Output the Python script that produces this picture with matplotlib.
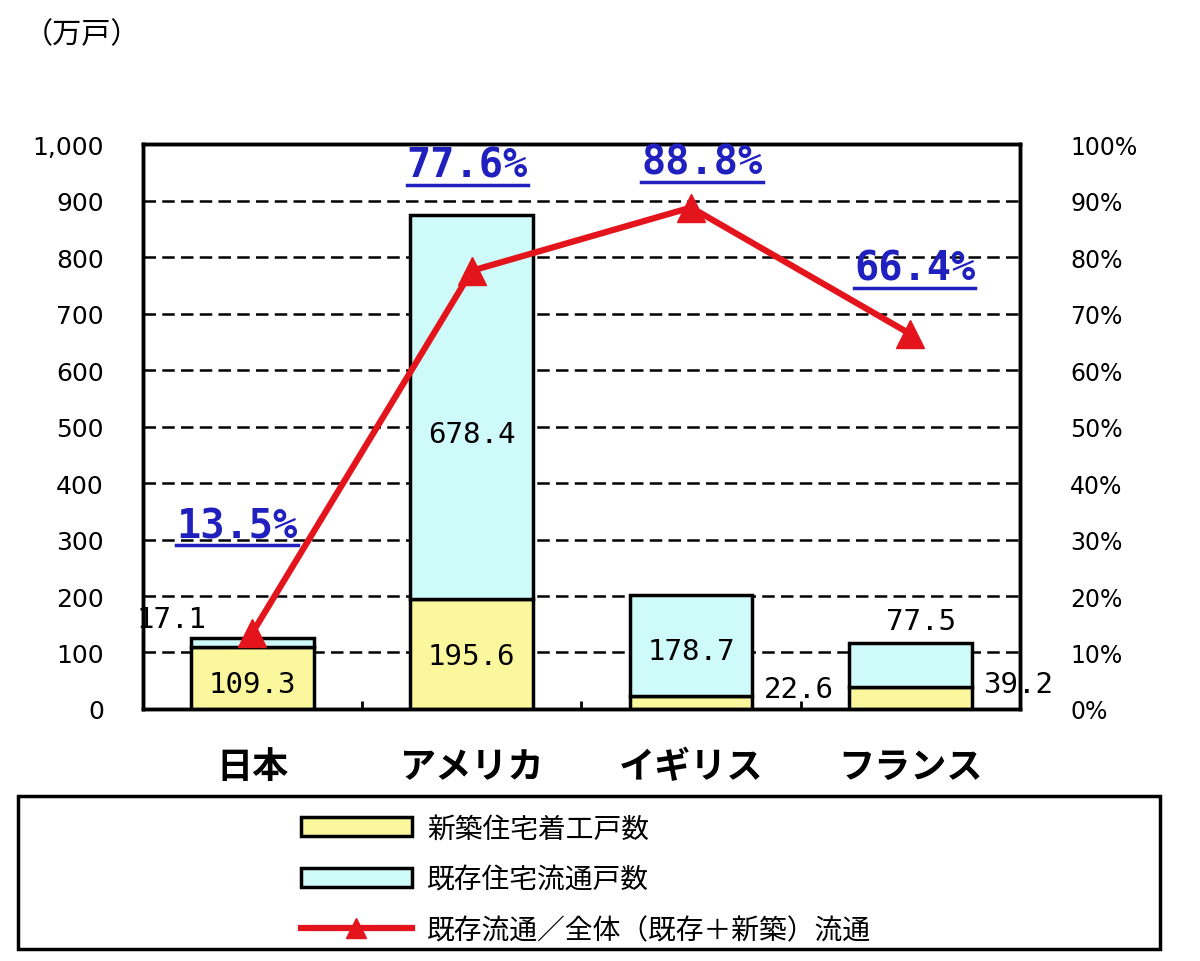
import numpy as np
import matplotlib
matplotlib.use("Agg")
import matplotlib.pyplot as plt
from matplotlib.patches import Patch, Rectangle
from matplotlib.lines import Line2D

plt.rcParams['font.family'] = ['Noto Sans CJK JP', 'DejaVu Sans']

# data (万戸)
countries = ['日本', 'アメリカ', 'イギリス', 'フランス']
new_built = [109.3, 195.6, 22.6, 39.2]      # 新築住宅着工戸数
existing = [17.1, 678.4, 178.7, 77.5]       # 既存住宅流通戸数
ratio = [13.5, 77.6, 88.8, 66.4]            # 既存流通／全体 (%)

yellow = '#FBF79C'
cyan = '#CFFAFA'
red = '#E3141B'
blue = '#2020BE'
mono = ['DejaVu Sans Mono']

fig = plt.figure(figsize=(12, 9.62), dpi=100)
ax = fig.add_axes([0.119, 0.262, 0.731, 0.587])
ax2 = ax.twinx()

x = np.arange(len(countries))
w = 0.56

ax.set_axisbelow(True)
ax.yaxis.grid(True, color='black', linestyle=(0, (5, 2.5)), linewidth=1.8)
ax.bar(x, new_built, w, color=yellow, edgecolor='black', linewidth=2.5, zorder=3)
ax.bar(x, existing, w, bottom=new_built, color=cyan, edgecolor='black', linewidth=2.5, zorder=3)

ax.set_xlim(-0.5, 3.5)
ax.set_ylim(0, 1000)
ax.set_yticks(np.arange(0, 1001, 100))
ax.set_yticklabels([f'{v:,}' for v in range(0, 1001, 100)], fontsize=18,
                   family=['DejaVu Sans'])
ax.tick_params(axis='y', length=0, pad=28)
ax.set_xticks(x)
ax.set_xticklabels(countries, fontsize=26, fontweight='bold')
ax.tick_params(axis='x', length=0, pad=28)
ax.set_xticks([0.5, 1.5, 2.5], minor=True)
ax.tick_params(axis='x', which='minor', direction='in', length=6, width=2)
for s in ax.spines.values():
    s.set_linewidth(2.5)

ax2.plot(x, ratio, color=red, linewidth=4.5, marker='^', markersize=20, zorder=5)
ax2.set_ylim(0, 100)
ax2.set_yticks(np.arange(0, 101, 10))
ax2.set_yticklabels([f'{v}%' for v in range(0, 101, 10)], fontsize=17,
                    family=['DejaVu Sans'])
ax2.tick_params(axis='y', length=0, pad=36)
for s in ax2.spines.values():
    s.set_linewidth(2.5)

# value labels
lab_kw = dict(fontsize=21, ha='center', va='center', family=mono, zorder=6)
ax.text(-0.37, 159, f'{existing[0]}', **lab_kw)
ax.text(0, 44, f'{new_built[0]}', **lab_kw)
ax.text(1, 94, f'{new_built[1]}', **lab_kw)
ax.text(1, 487, f'{existing[1]}', **lab_kw)
ax.text(2, 103, f'{existing[2]}', **lab_kw)
ax.text(2.49, 35, f'{new_built[2]}', **lab_kw)
ax.text(3.05, 156, f'{existing[3]}', **lab_kw)
ax.text(3.49, 44, f'{new_built[3]}', **lab_kw)

# ratio labels (underlined)
pct_pos = [(-0.07, 32.4), (0.98, 96.3), (2.05, 96.8), (3.02, 78.0)]
pct_texts = []
for (px, py), r in zip(pct_pos, ratio):
    t = ax2.text(px, py, f'{r}%', fontsize=29, color=blue, fontweight='bold',
                 ha='center', va='center', family=mono, zorder=6)
    pct_texts.append(t)

fig.text(0.02, 0.963, '（万戸）', fontsize=21, ha='left', va='center')

# legend
handles = [
    Patch(facecolor=yellow, edgecolor='black', linewidth=2.5),
    Patch(facecolor=cyan, edgecolor='black', linewidth=2.5),
    Line2D([], [], color=red, linewidth=4.5, marker='^', markersize=15),
]
labels = ['新築住宅着工戸数', '既存住宅流通戸数', '既存流通／全体（既存＋新築）流通']
fig.legend(handles, labels, loc='upper left', bbox_to_anchor=(0.239, 0.168),
           frameon=False, fontsize=20, handlelength=4, handleheight=0.65,
           labelspacing=0.75, handletextpad=0.55, borderpad=0)
fig.patches.append(Rectangle((0.015, 0.0125), 0.952, 0.1585, transform=fig.transFigure,
                             fill=False, edgecolor='black', linewidth=2.5))

# underline the ratio labels
fig.canvas.draw()
renderer = fig.canvas.get_renderer()
inv = fig.transFigure.inverted()
for t in pct_texts:
    bb = t.get_window_extent(renderer)
    (x0, y0), (x1, _) = inv.transform([(bb.x0, bb.y0), (bb.x1, bb.y1)])
    fig.add_artist(Line2D([x0, x1], [y0, y0], transform=fig.transFigure,
                          color=blue, linewidth=2.5))

fig.savefig('out.png', dpi=100)
